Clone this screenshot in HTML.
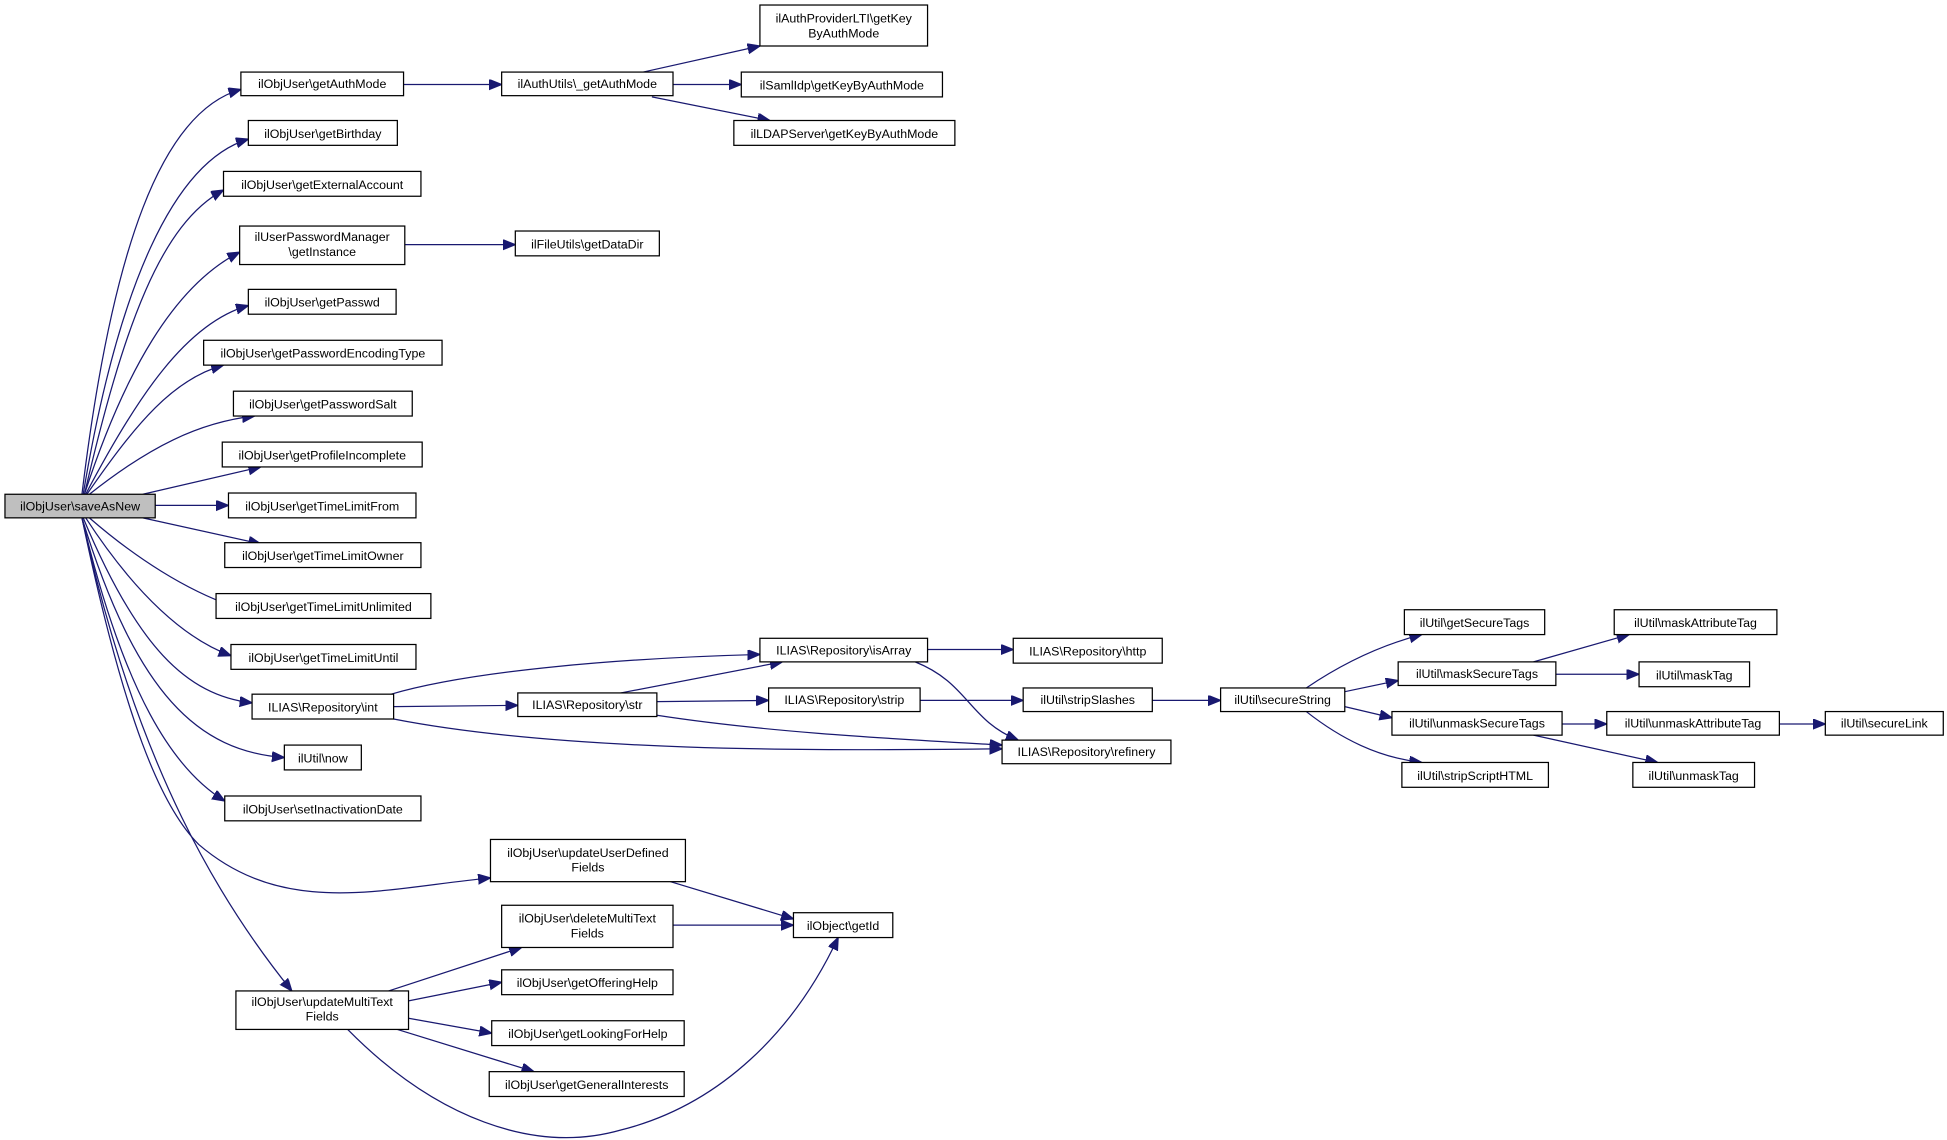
<!DOCTYPE html>
<html><head><meta charset="utf-8"><style>
html,body{margin:0;padding:0;background:#fff;}
svg{display:block;}
text{font-family:"Liberation Sans",sans-serif;font-size:10px;fill:#000;}
.n{fill:#fff;stroke:#000;stroke-width:1;}
.e{fill:none;stroke:#191970;stroke-width:1;}
</style></head><body>
<svg width="1947" height="1140" viewBox="0 0 1568 918" xmlns="http://www.w3.org/2000/svg">
<defs><marker id="a" markerUnits="userSpaceOnUse" markerWidth="12" markerHeight="10" refX="10" refY="4" orient="auto"><path d="M0,0 L10,4 L0,8 z" fill="#191970" stroke="#191970"/></marker></defs>
<g class="e" marker-end="url(#a)">
<path d="M66,398 C90,200 130,90 194,72"/>
<path d="M67,398 C95,230 140,130 200,112"/>
<path d="M68,398 C100,260 130,180 180,153"/>
<path d="M68,398 C100,300 140,230 193,203"/>
<path d="M69,398 C110,320 150,260 200,246"/>
<path d="M70,398 C110,340 140,305 180,294"/>
<path d="M72,398 C120,360 160,340 205,335"/>
<path d="M115,398 L210,376"/>
<path d="M125,407 L184,407"/>
<path d="M115,417 L210,438"/>
<path d="M72,417 C110,450 150,475 187,488"/>
<path d="M69,417 C110,480 150,515 186,528"/>
<path d="M67,417 C110,520 150,560 203,566"/>
<path d="M66,417 C110,560 160,605 229,610"/>
<path d="M66,417 C100,560 140,620 181,645"/>
<path d="M66,417 C100,580 130,650 160,680 C230,740 310,715 395,707"/>
<path d="M66,417 C110,620 180,730 235,798"/>
<path d="M325,68 L404,68"/>
<path d="M518,58 L612,37"/>
<path d="M542,68 L597,68"/>
<path d="M525,78 L620,97"/>
<path d="M326,197 L415,197"/>
<path d="M315,559 C380,540 500,530 612,527"/>
<path d="M317,569 L417,568"/>
<path d="M317,579 C450,605 650,605 807,603"/>
<path d="M500,558 L630,533"/>
<path d="M529,565 L619,564"/>
<path d="M529,576 C620,590 720,595 807,600"/>
<path d="M747,523 L816,523"/>
<path d="M737,533 C780,550 780,580 820,596"/>
<path d="M741,564 L824,564"/>
<path d="M928,564 L983,564"/>
<path d="M1052,554 C1080,535 1110,520 1145,511"/>
<path d="M1083,557 L1126,548"/>
<path d="M1083,569 L1121,578"/>
<path d="M1052,573 C1080,595 1110,610 1145,614"/>
<path d="M1235,533 L1312,511"/>
<path d="M1253,543 L1320,543"/>
<path d="M1258,583 L1294,583"/>
<path d="M1235,592 L1335,614"/>
<path d="M1433,583 L1470,583"/>
<path d="M540,710 L639,740"/>
<path d="M542,745 L639,745"/>
<path d="M313,798 L420,763"/>
<path d="M329,806 L404,791"/>
<path d="M329,820 L396,832"/>
<path d="M320,829 L430,863"/>
<path d="M280,829 C350,900 430,930 500,910 C580,890 640,830 675,755"/>
</g>
<g text-anchor="middle">
<rect x="4" y="398" width="121" height="19" fill="#bfbfbf" stroke="#000"/><text x="64.5" y="411">ilObjUser\saveAsNew</text>
<rect class="n" x="194" y="58" width="131" height="19"/><text x="259.5" y="71">ilObjUser\getAuthMode</text>
<rect class="n" x="200" y="97" width="120" height="20"/><text x="260" y="111">ilObjUser\getBirthday</text>
<rect class="n" x="180" y="138" width="159" height="20"/><text x="259.5" y="152">ilObjUser\getExternalAccount</text>
<rect class="n" x="193" y="182" width="133" height="31"/><text x="259.5" y="194">ilUserPasswordManager</text><text x="259.5" y="206">\getInstance</text>
<rect class="n" x="200" y="233" width="119" height="20"/><text x="259.5" y="247">ilObjUser\getPasswd</text>
<rect class="n" x="164" y="274" width="192" height="20"/><text x="260" y="288">ilObjUser\getPasswordEncodingType</text>
<rect class="n" x="188" y="315" width="144" height="20"/><text x="260" y="329">ilObjUser\getPasswordSalt</text>
<rect class="n" x="179" y="356" width="161" height="20"/><text x="259.5" y="370">ilObjUser\getProfileIncomplete</text>
<rect class="n" x="184" y="397" width="151" height="20"/><text x="259.5" y="411">ilObjUser\getTimeLimitFrom</text>
<rect class="n" x="181" y="437" width="158" height="20"/><text x="260" y="451">ilObjUser\getTimeLimitOwner</text>
<rect class="n" x="174" y="478" width="173" height="20"/><text x="260.5" y="492">ilObjUser\getTimeLimitUnlimited</text>
<rect class="n" x="186" y="519" width="149" height="20"/><text x="260.5" y="533">ilObjUser\getTimeLimitUntil</text>
<rect class="n" x="203" y="559" width="114" height="20"/><text x="260" y="573">ILIAS\Repository\int</text>
<rect class="n" x="229" y="600" width="62" height="20"/><text x="260" y="614">ilUtil\now</text>
<rect class="n" x="181" y="641" width="158" height="20"/><text x="260" y="655">ilObjUser\setInactivationDate</text>
<rect class="n" x="395" y="676" width="157" height="34"/><text x="473.5" y="690">ilObjUser\updateUserDefined</text><text x="473.5" y="702">Fields</text>
<rect class="n" x="404" y="729" width="138" height="34"/><text x="473" y="743">ilObjUser\deleteMultiText</text><text x="473" y="755">Fields</text>
<rect class="n" x="190" y="798" width="139" height="31"/><text x="259.5" y="810">ilObjUser\updateMultiText</text><text x="259.5" y="822">Fields</text>
<rect class="n" x="404" y="781" width="138" height="20"/><text x="473" y="795">ilObjUser\getOfferingHelp</text>
<rect class="n" x="396" y="822" width="155" height="20"/><text x="473.5" y="836">ilObjUser\getLookingForHelp</text>
<rect class="n" x="394" y="863" width="157" height="20"/><text x="472.5" y="877">ilObjUser\getGeneralInterests</text>
<rect class="n" x="639" y="735" width="80" height="20"/><text x="679" y="749">ilObject\getId</text>
<rect class="n" x="404" y="58" width="138" height="19"/><text x="473" y="71">ilAuthUtils\_getAuthMode</text>
<rect class="n" x="612" y="4" width="135" height="33"/><text x="679.5" y="18">ilAuthProviderLTI\getKey</text><text x="679.5" y="30">ByAuthMode</text>
<rect class="n" x="597" y="58" width="162" height="20"/><text x="678" y="72">ilSamlIdp\getKeyByAuthMode</text>
<rect class="n" x="591" y="97" width="178" height="20"/><text x="680" y="111">ilLDAPServer\getKeyByAuthMode</text>
<rect class="n" x="415" y="186" width="116" height="20"/><text x="473" y="200">ilFileUtils\getDataDir</text>
<rect class="n" x="612" y="514" width="135" height="19"/><text x="679.5" y="527">ILIAS\Repository\isArray</text>
<rect class="n" x="417" y="558" width="112" height="19"/><text x="473" y="571">ILIAS\Repository\str</text>
<rect class="n" x="619" y="554" width="122" height="19"/><text x="680" y="567">ILIAS\Repository\strip</text>
<rect class="n" x="816" y="514" width="120" height="20"/><text x="876" y="528">ILIAS\Repository\http</text>
<rect class="n" x="807" y="596" width="136" height="19"/><text x="875" y="609">ILIAS\Repository\refinery</text>
<rect class="n" x="824" y="554" width="104" height="19"/><text x="876" y="567">ilUtil\stripSlashes</text>
<rect class="n" x="983" y="554" width="100" height="19"/><text x="1033" y="567">ilUtil\secureString</text>
<rect class="n" x="1131" y="491" width="113" height="20"/><text x="1187.5" y="505">ilUtil\getSecureTags</text>
<rect class="n" x="1126" y="533" width="127" height="19"/><text x="1189.5" y="546">ilUtil\maskSecureTags</text>
<rect class="n" x="1121" y="573" width="137" height="19"/><text x="1189.5" y="586">ilUtil\unmaskSecureTags</text>
<rect class="n" x="1129" y="614" width="118" height="20"/><text x="1188" y="628">ilUtil\stripScriptHTML</text>
<rect class="n" x="1300" y="491" width="131" height="20"/><text x="1365.5" y="505">ilUtil\maskAttributeTag</text>
<rect class="n" x="1320" y="533" width="89" height="20"/><text x="1364.5" y="547">ilUtil\maskTag</text>
<rect class="n" x="1294" y="573" width="139" height="19"/><text x="1363.5" y="586">ilUtil\unmaskAttributeTag</text>
<rect class="n" x="1315" y="614" width="98" height="20"/><text x="1364" y="628">ilUtil\unmaskTag</text>
<rect class="n" x="1470" y="573" width="95" height="19"/><text x="1517.5" y="586">ilUtil\secureLink</text>
</g>
</svg>
</body></html>
